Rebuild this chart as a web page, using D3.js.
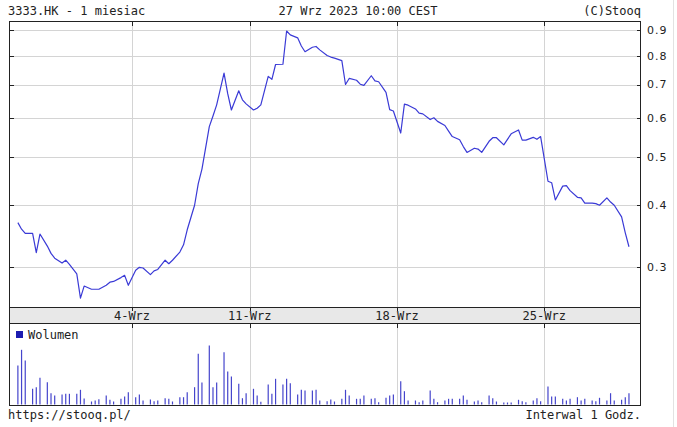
<!DOCTYPE html>
<html><head><meta charset="utf-8">
<script src="https://cdn.jsdelivr.net/npm/d3@7"></script>
<style>body{margin:0;background:#fff}svg{display:block}</style>
</head><body><svg id="c" width="677" height="427"></svg>
<script>
// ---------- data ----------
const title = "3333.HK - 1 miesiac";
const dateLabel = "27 Wrz 2023 10:00 CEST";
const credit = "(C)Stooq";
const footerLeft = "https://stooq.pl/";
const footerRight = "Interwal 1 Godz.";
const volumeLabel = "Wolumen";

const tradingDays = ["28-Sie","29-Sie","30-Sie","31-Sie",
  "4-Wrz","5-Wrz","6-Wrz","7-Wrz",
  "11-Wrz","12-Wrz","13-Wrz","14-Wrz","15-Wrz",
  "18-Wrz","19-Wrz","20-Wrz","21-Wrz","22-Wrz",
  "25-Wrz","26-Wrz","27-Wrz"];
// hourly bars (end hour, HKT) within each session day
const barHours = [10, 11, 12, 14, 15, 16];
const weekTickLabels = ["4-Wrz","11-Wrz","18-Wrz","25-Wrz"];
const priceTicks = [0.3, 0.4, 0.5, 0.6, 0.7, 0.8, 0.9];

const price = [
  0.369,0.358,0.351,0.351,0.321,0.350,
  0.331,0.320,0.313,0.306,0.310,0.304,
  0.291,0.260,0.275,0.271,0.271,0.271,
  0.276,0.280,0.281,0.286,0.289,0.276,
  0.296,0.300,0.299,0.290,0.295,0.297,
  0.310,0.305,0.310,0.322,0.333,0.357,
  0.400,0.442,0.473,0.576,0.605,0.637,
  0.738,0.671,0.622,0.680,0.652,0.640,
  0.622,0.627,0.637,0.727,0.717,0.768,
  0.769,0.897,0.881,0.869,0.837,0.815,
  0.832,0.835,0.822,0.801,0.795,0.791,
  0.782,0.700,0.720,0.714,0.701,0.697,
  0.729,0.712,0.709,0.675,0.623,0.619,
  0.559,0.639,0.636,0.625,0.613,0.611,
  0.595,0.600,0.590,0.579,0.564,0.550,
  0.542,0.525,0.511,0.521,0.519,0.511,
  0.538,0.547,0.547,0.529,0.543,0.557,
  0.567,0.541,0.541,0.548,0.543,0.550,
  0.447,0.444,0.410,0.437,0.438,0.428,
  0.415,0.414,0.404,0.404,0.403,0.400,
  0.414,0.406,0.400,0.379,0.352,0.330
];
// relative hourly volume
const volume = [
  39,54.7,44,15.7,17.3,26.7,
  22.3,11.3,9,10,10.7,10.7,
  10.7,14.7,6,3,4,5.3,
  9,4.7,3,5.7,8,12.3,
  7.3,10,4,5,3.3,4,
  6.3,5.7,3,7.3,7.3,12.3,
  17.3,50.7,22,59,17.3,22,
  52.3,33,28,20.7,6.3,11.3,
  15.7,9,2.7,20,10.7,25.7,
  20,25.7,21.3,10,14.7,14,
  14,14.7,4,3.3,5,3,
  5.7,14.7,9,5.7,5.7,9,
  5.7,6.3,2.3,6.7,9,10,
  23.3,13.3,4,4,2.3,4,
  14,5.7,2.3,4,5.7,5.7,
  5.7,9,4.7,3,4,2.3,
  9,6.3,3,2,2,2,
  4.7,3.3,2.3,4,6.3,3.3,
  18,8,8,5.7,4,5.7,
  7.3,4,5.7,4,3.3,6.7,
  4,11.3,4,4.7,7.3,11.3
];

// ---------- layout ----------
const L = 9.5, R = 640.5, T = 21.5, B = 307.5, BAND_B = 323.5, VB = 405.5;
const SLOTS = 8, DAY_START = 9; // each day spans 9:00..17:00 in 8 hourly slots
const mono = "'DejaVu Sans Mono', 'Liberation Mono', monospace";
const sans = "'DejaVu Sans', Verdana, sans-serif";

const svg = d3.select("#c");
const x = d3.scaleLinear().domain([0, tradingDays.length * SLOTS]).range([14.2, 632.65]);
const y = d3.scaleLog().domain([0.3, 0.9]).range([267.3, 30.3]);
const yv = d3.scaleLinear().domain([0, 70]).range([404.5, 334.5]);

const pts = price.map((p, i) => {
  const d = Math.floor(i / barHours.length), h = barHours[i % barHours.length];
  return { pos: d * SLOTS + (h - DAY_START), p, v: volume[i] };
});
const weekPos = weekTickLabels.map(lbl => tradingDays.indexOf(lbl) * SLOTS);
const snap = v => Math.round(v) + 0.5;

svg.append("rect").attr("width", 677).attr("height", 427).attr("fill", "#fff");
// page edge line
svg.append("line").attr("x1", 673.5).attr("x2", 673.5).attr("y1", 0).attr("y2", 427)
  .attr("stroke", "#e2e2e2");

const g = svg.append("g").attr("shape-rendering", "crispEdges");
// horizontal grid
g.selectAll(".hg").data(priceTicks).join("line")
  .attr("x1", L).attr("x2", R).attr("y1", d => snap(y(d))).attr("y2", d => snap(y(d)))
  .attr("stroke", "#d4d4d4");
// vertical grid main + volume
weekPos.forEach(p => {
  const xx = snap(x(p));
  g.append("line").attr("x1", xx).attr("x2", xx).attr("y1", T).attr("y2", B).attr("stroke", "#d4d4d4");
  g.append("line").attr("x1", xx).attr("x2", xx).attr("y1", BAND_B).attr("y2", VB).attr("stroke", "#d4d4d4");
});
// band
g.append("rect").attr("x", L).attr("y", B).attr("width", R - L).attr("height", BAND_B - B)
  .attr("fill", "#e8e8e8").attr("stroke", "#222");
// frames
g.append("rect").attr("x", L).attr("y", T).attr("width", R - L).attr("height", B - T)
  .attr("fill", "none").attr("stroke", "#222");
g.append("rect").attr("x", L).attr("y", BAND_B).attr("width", R - L).attr("height", VB - BAND_B)
  .attr("fill", "none").attr("stroke", "#222");
// price ticks (inward, both sides)
priceTicks.forEach(t => {
  const yy = snap(y(t));
  g.append("line").attr("x1", R - 4).attr("x2", R).attr("y1", yy).attr("y2", yy).attr("stroke", "#222");
  g.append("line").attr("x1", L).attr("x2", L + 4).attr("y1", yy).attr("y2", yy).attr("stroke", "#222");
});
// week ticks
weekPos.forEach(p => {
  const xx = snap(x(p));
  [[T, T + 4], [B, B + 3], [BAND_B, BAND_B + 4]].forEach(([a, b]) =>
    g.append("line").attr("x1", xx).attr("x2", xx).attr("y1", a).attr("y2", b).attr("stroke", "#222"));
});

// price labels
svg.selectAll(".yl").data(priceTicks).join("text")
  .attr("x", 647).attr("y", d => y(d)).attr("dy", "0.36em")
  .attr("font-family", sans).attr("font-size", 11).attr("letter-spacing", 1)
  .attr("fill", "#222").text(d => d3.format(".1f")(d));
// week labels
svg.selectAll(".xl").data(weekTickLabels).join("text")
  .attr("x", (d, i) => x(weekPos[i])).attr("y", 319.5).attr("text-anchor", "middle")
  .attr("font-family", mono).attr("font-size", 12).attr("fill", "#222").text(d => d);

// volume bars
svg.append("g").selectAll("line").data(pts.filter(d => d.v > 0)).join("line")
  .attr("x1", d => x(d.pos)).attr("x2", d => x(d.pos))
  .attr("y1", yv(0)).attr("y2", d => yv(d.v))
  .attr("stroke", "#4545cc").attr("stroke-width", 1.2);

// price line
svg.append("path").datum(pts)
  .attr("d", d3.line().x(d => x(d.pos)).y(d => y(d.p)))
  .attr("fill", "none").attr("stroke", "#3a3ad6").attr("stroke-width", 1.2)
  .attr("stroke-linejoin", "round");

// legend
svg.append("rect").attr("x", 16).attr("y", 331).attr("width", 7).attr("height", 7)
  .attr("fill", "#1c1cb0").attr("shape-rendering", "crispEdges");
svg.append("text").attr("x", 28).attr("y", 338.5).attr("font-family", mono).attr("font-size", 12)
  .attr("fill", "#222").text(volumeLabel);

// header & footer
const txt = (s, xx, yy, anchor) => svg.append("text").attr("x", xx).attr("y", yy)
  .attr("text-anchor", anchor).attr("font-family", mono).attr("font-size", 12)
  .attr("fill", "#222").text(s);
txt(title, 8, 15, "start");
txt(dateLabel, 358, 15, "middle");
txt(credit, 641, 15, "end");
txt(footerLeft, 8, 419, "start");
txt(footerRight, 641, 419, "end");
</script></body></html>
